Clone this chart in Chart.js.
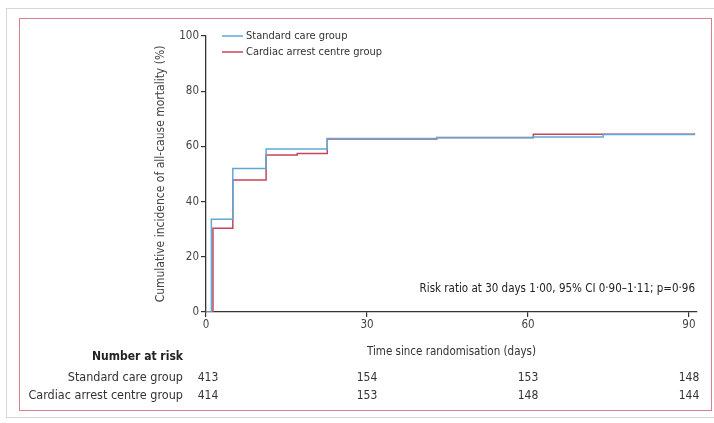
<!DOCTYPE html>
<html>
<head>
<meta charset="utf-8">
<script src="https://cdn.jsdelivr.net/npm/chart.js@4"></script>
<style>
  html, body { margin: 0; padding: 0; background: #fff; }
  #wrap { position: relative; width: 714px; height: 423px; overflow: hidden; }
  #outer { position: absolute; left: 6px; top: 8px; width: 720px; height: 410px; border: 1px solid #d6d6d6; box-sizing: border-box; }
  #frame { position: absolute; left: 19px; top: 18px; width: 693px; height: 393px; border: 1.5px solid #d8808c; box-sizing: border-box; }
  canvas { position: absolute; left: 0; top: 0; }
</style>
</head>
<body>
<div id="wrap">
  <div id="outer"></div>
  <div id="frame"></div>
  <canvas id="km" width="714" height="423"></canvas>
</div>
<script>
// Datos (días, % acumulado)
const standardDays = [0, 1, 5, 11.2, 22.6, 43, 61, 74, 91];
const standardPct = [0, 33.6, 52, 59.1, 62.9, 63.1, 63.4, 64.3, 64.6];
const cardiacDays = [0, 1.3, 5, 11.2, 17, 22.6, 43, 61, 91];
const cardiacPct = [0, 30.3, 47.8, 56.9, 57.4, 62.7, 63.2, 64.4, 64.8];

const xTicks = [0, 30, 60, 90];
const riskStandard = [413, 154, 153, 148];
const riskCardiac = [414, 153, 148, 144];

const seriesNames = ["Standard care group", "Cardiac arrest centre group"];
const riskText = "Risk ratio at 30 days 1·00, 95% CI 0·90–1·11; p=0·96";

const BLUE = "#5ea9d4";
const RED = "#c6445a";
const FONT = '"Liberation Sans Narrow", "DejaVu Sans Condensed", sans-serif';

Chart.defaults.font.family = FONT;

const toPoints = (xs, ys) => xs.map((x, i) => ({ x: x, y: ys[i] }));

// Leyenda, títulos y tabla de pacientes en riesgo
const extras = {
  id: "extras",
  afterDraw(chart) {
    const ctx = chart.ctx;
    const xs = chart.scales.x;
    ctx.save();

    // leyenda
    const colors = [BLUE, RED];
    ctx.font = "11px " + FONT;
    ctx.textBaseline = "middle";
    ctx.textAlign = "left";
    seriesNames.forEach((name, i) => {
      const y = 36 + i * 16;
      ctx.strokeStyle = colors[i];
      ctx.lineWidth = 1.5;
      ctx.beginPath();
      ctx.moveTo(222, y);
      ctx.lineTo(243, y);
      ctx.stroke();
      ctx.fillStyle = "#333";
      ctx.fillText(name, 246, y);
    });

    // título eje y
    ctx.save();
    ctx.translate(161, 174);
    ctx.rotate(-Math.PI / 2);
    ctx.textAlign = "center";
    ctx.font = "12px " + FONT;
    ctx.fillStyle = "#444";
    ctx.fillText("Cumulative incidence of all-cause mortality (%)", 0, 0);
    ctx.restore();

    // texto de riesgo
    ctx.textAlign = "right";
    ctx.fillStyle = "#222";
    ctx.font = "11.5px " + FONT;
    ctx.fillText(riskText, 695, 289);

    // título eje x
    ctx.textAlign = "center";
    ctx.fillStyle = "#333";
    ctx.fillText("Time since randomisation (days)", (xs.left + xs.right) / 2, 352);

    // pacientes en riesgo
    ctx.textAlign = "right";
    ctx.font = "bold 12px " + FONT;
    ctx.fillStyle = "#222";
    ctx.fillText("Number at risk", 183, 357);
    ctx.font = "12.5px " + FONT;
    ctx.fillStyle = "#333";
    ctx.fillText(seriesNames[0], 183, 378);
    ctx.fillText(seriesNames[1], 183, 396);
    ctx.textAlign = "center";
    ctx.font = "12px " + FONT;
    xTicks.forEach((t, i) => {
      const px = xs.getPixelForValue(t) + (i === 0 ? 2 : 0);
      ctx.fillText(String(riskStandard[i]), px, 378);
      ctx.fillText(String(riskCardiac[i]), px, 396);
    });
    ctx.restore();
  }
};

new Chart(document.getElementById("km"), {
  type: "line",
  data: {
    datasets: [
      {
        label: seriesNames[0],
        data: toPoints(standardDays, standardPct),
        borderColor: BLUE,
        borderWidth: 1.5,
        stepped: "before",
        pointRadius: 0,
        fill: false
      },
      {
        label: seriesNames[1],
        data: toPoints(cardiacDays, cardiacPct),
        borderColor: RED,
        borderWidth: 1.5,
        stepped: "before",
        pointRadius: 0,
        fill: false
      }
    ]
  },
  options: {
    responsive: false,
    animation: false,
    layout: { padding: { top: 36, right: 17, left: 0, bottom: 0 } },
    plugins: { legend: { display: false }, tooltip: { enabled: false } },
    scales: {
      x: {
        type: "linear",
        min: 0,
        max: 91.5,
        afterFit: (s) => { s.height = 111; },
        afterBuildTicks: (s) => { s.ticks = xTicks.map(v => ({ value: v })); },
        grid: { drawOnChartArea: false, tickLength: 5, color: "#333", lineWidth: 1.2 },
        border: { color: "#333", width: 1.3 },
        ticks: { color: "#444", font: { size: 11.5 }, padding: 1 }
      },
      y: {
        min: 0,
        max: 100,
        afterFit: (s) => { s.width = 206; },
        ticks: { stepSize: 20, color: "#444", font: { size: 11.5 }, padding: 2 },
        grid: { drawOnChartArea: false, tickLength: 5, color: "#333", lineWidth: 1.2 },
        border: { color: "#333", width: 1.3 }
      }
    }
  },
  plugins: [extras]
});
</script>
</body>
</html>
